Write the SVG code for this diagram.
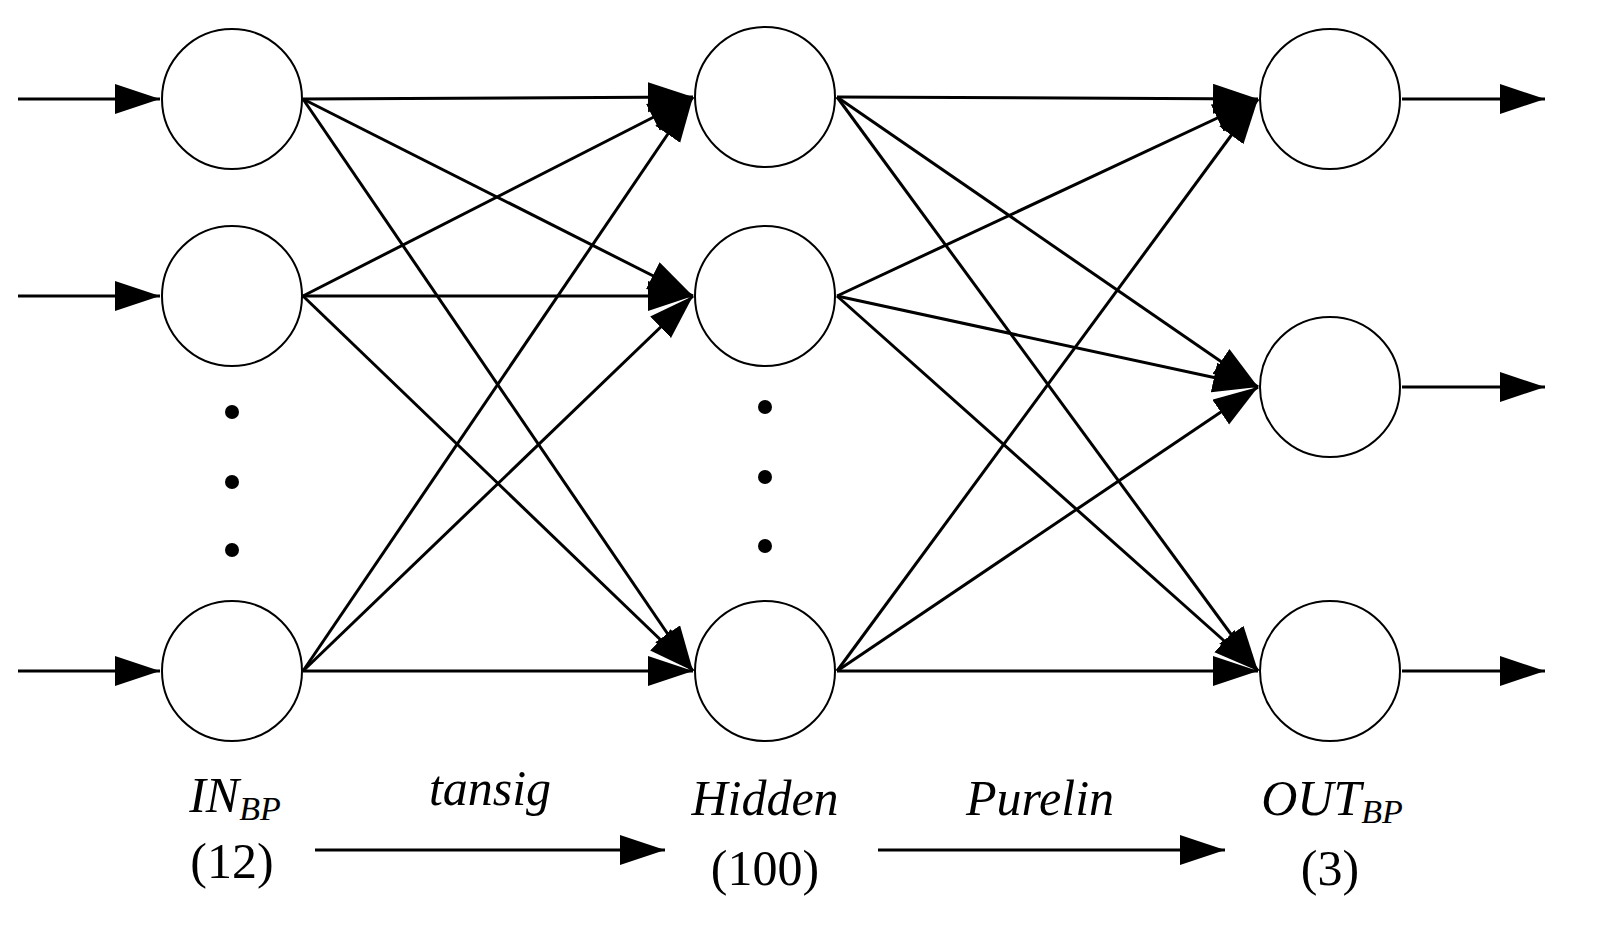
<svg xmlns="http://www.w3.org/2000/svg" width="1597" height="931" viewBox="0 0 1597 931">
<style>
.n{fill:#fff;stroke:#000;stroke-width:2}
.c{stroke:#000;stroke-width:3;fill:none;marker-end:url(#ah)}
.t{font-family:"Liberation Serif",serif;font-size:50px;text-anchor:middle}
.i{font-style:italic}
</style>
<defs><marker id="ah" markerUnits="userSpaceOnUse" markerWidth="46" markerHeight="32" refX="45" refY="15" orient="auto"><path d="M0,0 L45,15 L0,30 Z" fill="#000"/></marker></defs>
<rect width="1597" height="931" fill="#fff"/>
<g id="connectors">
<line class="c" x1="18" y1="99" x2="160" y2="99"/>
<line class="c" x1="18" y1="296" x2="160" y2="296"/>
<line class="c" x1="18" y1="671" x2="160" y2="671"/>
<line class="c" x1="303" y1="99" x2="693" y2="97"/>
<line class="c" x1="303" y1="99" x2="693" y2="296"/>
<line class="c" x1="303" y1="99" x2="693" y2="671"/>
<line class="c" x1="303" y1="296" x2="693" y2="97"/>
<line class="c" x1="303" y1="296" x2="693" y2="296"/>
<line class="c" x1="303" y1="296" x2="693" y2="671"/>
<line class="c" x1="303" y1="671" x2="693" y2="97"/>
<line class="c" x1="303" y1="671" x2="693" y2="296"/>
<line class="c" x1="303" y1="671" x2="693" y2="671"/>
<line class="c" x1="837" y1="97" x2="1258" y2="99"/>
<line class="c" x1="837" y1="97" x2="1258" y2="387"/>
<line class="c" x1="837" y1="97" x2="1258" y2="671"/>
<line class="c" x1="837" y1="296" x2="1258" y2="99"/>
<line class="c" x1="837" y1="296" x2="1258" y2="387"/>
<line class="c" x1="837" y1="296" x2="1258" y2="671"/>
<line class="c" x1="837" y1="671" x2="1258" y2="99"/>
<line class="c" x1="837" y1="671" x2="1258" y2="387"/>
<line class="c" x1="837" y1="671" x2="1258" y2="671"/>
<line class="c" x1="1402" y1="99" x2="1545" y2="99"/>
<line class="c" x1="1402" y1="387" x2="1545" y2="387"/>
<line class="c" x1="1402" y1="671" x2="1545" y2="671"/>
<line class="c" x1="315" y1="850" x2="665" y2="850"/>
<line class="c" x1="878" y1="850" x2="1225" y2="850"/>
</g>
<g id="in1"><circle class="n" cx="232" cy="99" r="70"/></g>
<g id="in2"><circle class="n" cx="232" cy="296" r="70"/></g>
<g id="in3"><circle class="n" cx="232" cy="671" r="70"/></g>
<g id="h1"><circle class="n" cx="765" cy="97" r="70"/></g>
<g id="h2"><circle class="n" cx="765" cy="296" r="70"/></g>
<g id="h3"><circle class="n" cx="765" cy="671" r="70"/></g>
<g id="o1"><circle class="n" cx="1330" cy="99" r="70"/></g>
<g id="o2"><circle class="n" cx="1330" cy="387" r="70"/></g>
<g id="o3"><circle class="n" cx="1330" cy="671" r="70"/></g>
<g id="dots">
<circle cx="232" cy="412" r="7"/><circle cx="232" cy="482" r="7"/><circle cx="232" cy="550" r="7"/>
<circle cx="765" cy="407" r="7"/><circle cx="765" cy="477" r="7"/><circle cx="765" cy="546" r="7"/>
</g>
<g id="labels">
<text class="t i" x="235" y="812">IN<tspan font-size="34" dy="8">BP</tspan></text>
<text class="t" x="232" y="878">(12)</text>
<text class="t i" x="490" y="805">tansig</text>
<text class="t i" x="765" y="815">Hidden</text>
<text class="t" x="765" y="885">(100)</text>
<text class="t i" x="1040" y="815">Purelin</text>
<text class="t i" x="1332" y="815">OUT<tspan font-size="34" dy="8">BP</tspan></text>
<text class="t" x="1330" y="885">(3)</text>
</g>
</svg>
